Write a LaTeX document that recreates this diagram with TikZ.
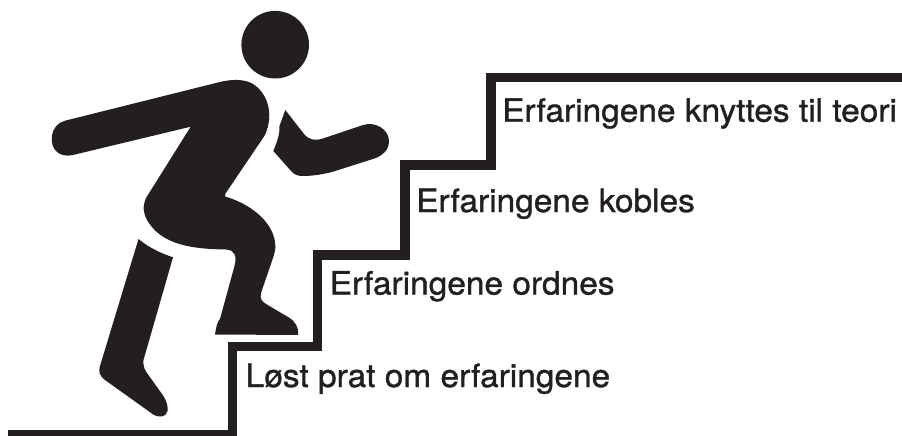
\documentclass[tikz,border=0pt]{standalone}
\usepackage{fontspec}
\setmainfont{TeX Gyre Heros}[FakeBold=1.1,FakeStretch=1.045]
\usepackage{xcolor}
\definecolor{ink}{HTML}{231F20}

\begin{document}
\begin{tikzpicture}[x=1pt,y=-1pt,
  stair/.style={draw=ink,line width=9.5pt,miter limit=10},
  limb/.style={fill=ink},
  lbl/.style={anchor=base west,inner sep=0pt,text=ink,font=\fontsize{32}{34}\selectfont}]

  \useasboundingbox (0,0) rectangle (902,436);

  % stairs, bottom to top
  \draw[stair] (8,434.7) -- (232.6,434.7) -- (232.6,346.7) -- (317.6,346.7)
    -- (317.6,255.2) -- (404.8,255.2) -- (404.8,165) -- (491,165) -- (491,77.5) -- (903,77.5);

  % step labels
  \foreach \name/\xx/\yy/\txt in {one/245.5/387/Løst prat om erfaringene,
      two/329.5/294.5/Erfaringene ordnes, three/416/212/Erfaringene kobles,
      four/502/121.7/Erfaringene knyttes til teori} {
    \node[lbl] (\name) at (\xx,\yy) {\txt};
  }

  % head
  \fill[limb] (275.2,44.7) circle (33.8);

  % trunk, back arm and front leg
  \fill[limb] (65,120.7) -- (220,82) .. controls (232,79) and (245,79) .. (253,84)
    .. controls (266,92) and (275,112) .. (265,135) -- (225.5,193.5) -- (225,196.5)
    .. controls (248,203) and (272,220) .. (275,242) .. controls (276,248) and (275,252) .. (273,258)
    -- (261,293) .. controls (260,298) and (261,301) .. (266,304) -- (288,317)
    .. controls (295,321) and (299,327) .. (298,335) -- (215,334.5) .. controls (216,328) and (217,322) .. (220,319)
    -- (234.5,266) .. controls (237,256) and (235,250) .. (226,249.5)
    .. controls (195,249) and (160,246) .. (146,218) .. controls (142,209) and (144,203) .. (146,198)
    -- (190.7,126.7) -- (73,155) .. controls (60,158) and (50,150) .. (52,136)
    .. controls (53,128) and (58,122.5) .. (65,120.7) -- cycle;

  % back leg
  \fill[limb] (138.5,239) .. controls (148,247) and (160,253) .. (173,257.3) -- (143.5,360)
    .. controls (143,365) and (144,369) .. (147,373) -- (162,394) .. controls (167,401) and (168,406) .. (167.5,411)
    .. controls (166,417) and (160,418) .. (154,415) -- (105,380) .. controls (100,376) and (98,372) .. (100,366) -- cycle;

  % front arm
  \fill[limb] (285.3,110) -- (304,134) .. controls (309,140) and (315,141) .. (323,138.5)
    -- (363,125) .. controls (376,121) and (389,130) .. (389,141) .. controls (389,150) and (383,155) .. (376,158)
    -- (332,172) .. controls (320,175) and (310,176) .. (303,176) .. controls (298,176) and (295,175) .. (292,172)
    -- (273.3,151) .. controls (278,140) and (280,132) .. (279.5,126) -- cycle;

\end{tikzpicture}
\end{document}
